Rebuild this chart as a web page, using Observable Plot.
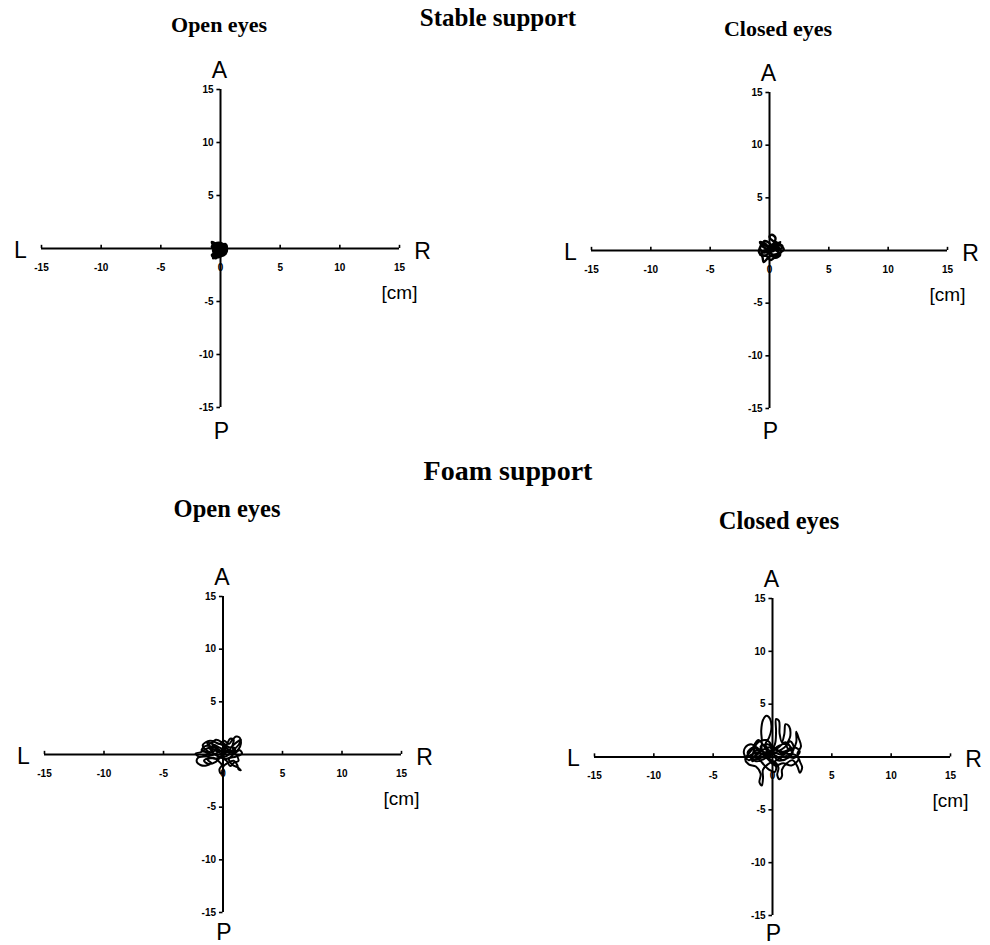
<!DOCTYPE html>
<html>
<head>
<meta charset="utf-8">
<script src="https://cdn.jsdelivr.net/npm/d3@7"></script>
<script src="https://cdn.jsdelivr.net/npm/@observablehq/plot@0.6"></script>
<style>
  html, body { margin: 0; padding: 0; background: #fff; }
  #page { position: relative; width: 990px; height: 945px; background: #fff; overflow: hidden; }
  .panel { position: absolute; }
  .title { position: absolute; font-family: "Liberation Serif", "Times New Roman", serif; font-weight: bold; line-height: 1; white-space: nowrap; transform: translateX(-50%); color: #000; }
</style>
</head>
<body>
<div id="page"></div>
<script>
// ---- Data (cm) ----
const sections = ["Stable support", "Foam support"];
const conditions = ["Open eyes", "Closed eyes"];
const xTicks = [-15, -10, -5, 0, 5, 10, 15];
const yTicks = [-15, -10, -5, 5, 10, 15];
const directionLabels = ["A", "P", "L", "R"];
const unitLabel = "[cm]";

// centre-of-pressure traces [ML, AP]
const stableOpen = [[0,0],[-0.3,0.2],[-0.6,0.4],[-0.4,0.1],[0.1,0.3],[0.4,0.1],[0.3,-0.3],[-0.1,-0.2],[-0.5,-0.1],[-0.7,0.2],[-0.3,0.5],[0.2,0.4],[0.5,0],[0.4,-0.5],[0,-0.7],[-0.4,-0.6],[-0.6,-0.9],[-0.5,-0.4],[-0.2,0],[0.2,-0.1],[0.3,0.3],[-0.1,0.4],[-0.5,0.3],[-0.2,-0.3],[0.1,-0.5],[0.4,-0.2],[0.2,0.2],[-0.3,0.1],[-0.6,-0.2],[-0.2,-0.8],[0.2,-0.6],[0.5,-0.3],[0.3,0],[-0.1,0.1],[-0.4,0.4],[-0.7,0.6],[-0.5,0.2],[0,0.2],[0.4,0.4],[0.5,0.1],[0.1,-0.3],[-0.3,-0.4],[-0.7,-0.6],[-0.4,-0.9],[0,-0.4],[0.3,-0.1],[-0.1,0]];

const stableClosed = [[0,0],[0.4,0.3],[0.8,0.1],[1.1,0.4],[0.7,0.7],[0.3,0.9],[0,1.3],[0.2,1.5],[0.5,1.2],[0.3,0.6],[-0.2,0.4],[-0.6,0.6],[-0.8,0.2],[-0.5,-0.2],[-0.1,-0.1],[0.3,-0.4],[0.7,-0.3],[1.2,0.1],[0.9,0.5],[0.4,0.2],[0,0.7],[-0.4,0.9],[-0.7,0.5],[-0.9,-0.1],[-0.6,-0.6],[-0.5,-1.1],[-0.2,-0.8],[0.1,-0.5],[0.5,-0.7],[0.9,-0.4],[0.6,0],[0.2,0.3],[-0.3,0.1],[-0.7,-0.3],[-0.4,-0.5],[0,-0.2],[0.5,0.1],[0.9,0.8],[0.5,0.5],[0.1,0.1],[-0.5,0.3],[-0.8,0.8],[-0.3,0.6],[0.2,-0.1],[0.7,0.3],[1.0,-0.1],[0.6,-0.5],[0.1,-0.9],[-0.3,-0.5],[-0.8,-0.4],[-0.4,0],[0.2,0.5],[0.6,0.8],[0.2,0]];

const foamOpen = [[0,0],[-0.5,0.3],[-1.0,0.6],[-1.5,0.5],[-1.9,0.2],[-2.3,0.1],[-2.0,-0.2],[-1.4,0],[-0.9,0.3],[-1.2,0.9],[-0.8,1.2],[-0.3,1.0],[0.1,1.3],[0.5,1.0],[0.8,1.4],[1.1,1.7],[1.4,1.6],[1.5,1.0],[1.3,0.5],[1.0,0.3],[0.8,0.8],[0.9,1.4],[0.6,1.5],[0.3,0.9],[0,0.5],[-0.4,0.2],[-1.0,-0.1],[-1.6,-0.2],[-2.1,-0.3],[-2.2,-0.7],[-1.9,-1.0],[-1.4,-1.05],[-1.0,-0.8],[-1.3,-0.5],[-0.8,-0.3],[-0.4,-0.6],[-0.1,-1.0],[-0.3,-1.4],[-0.2,-1.8],[0.05,-1.6],[0.0,-1.2],[0.4,-0.8],[0.9,-0.6],[1.2,-1.0],[1.3,-1.4],[1.5,-1.5],[1.2,-1.2],[0.8,-1.0],[0.5,-0.4],[1.1,-0.2],[1.6,0.1],[1.4,0.4],[0.9,0.1],[0.4,0.3],[-0.2,0.6],[-0.7,0.9],[-1.3,1.1],[-1.0,0.4],[-0.5,-0.1],[0.2,-0.2],[0.6,0.2],[0.3,0.6],[-0.1,0.2],[0.1,-0.4],[0.7,-0.2],[1.0,0.6],[0.5,0.7],[0,1.1],[-0.6,1.4],[-0.9,1.0],[-0.4,0.5],[0.2,0.1],[-0.3,-0.2],[-0.8,0.1],[-1.4,0.4],[-1.7,0.9],[-1.1,1.3],[-0.5,1.1],[0.1,0.8],[0.4,0.4],[-0.1,-0.1],[-0.6,-0.4],[-1.1,-0.3],[-1.6,-0.6],[-1.2,-0.9],[-0.6,-0.7],[-0.2,-0.3],[0.3,-0.6],[0.6,-1.1],[0.9,-0.8],[1.3,-0.6],[1.1,0.0],[0.6,0.5],[1.2,1.2],[1.5,1.4],[1.3,0.9],[0.8,0.4],[0.3,0.2],[-0.3,0.4],[-0.8,0.7],[-1.5,0.8],[-1.8,0.4],[-1.2,0.2],[-0.5,0.4],[0.1,0.3]];

const foamClosed = [[0,0],[-0.6,0.4],[-1.2,0.8],[-1.8,1.2],[-2.3,0.9],[-2.4,0.3],[-2.0,-0.3],[-1.5,0.1],[-1.0,0.5],[-0.9,1.5],[-0.95,2.5],[-0.8,3.5],[-0.5,3.9],[-0.2,3.6],[-0.1,2.6],[-0.3,1.8],[-0.6,1.2],[-0.2,0.6],[0.2,1.2],[0.3,2.4],[0.3,3.6],[0.55,3.4],[0.6,2.2],[0.8,1.4],[1.0,2.2],[1.1,3.1],[1.4,2.9],[1.5,2.0],[1.2,1.0],[1.6,0.6],[2.0,1.4],[2.0,2.4],[2.2,1.8],[2.4,1.0],[2.1,0.3],[2.3,-0.4],[2.5,-1.0],[2.3,-1.5],[2.1,-0.9],[1.7,-0.3],[1.2,-0.6],[0.8,-1.2],[0.8,-1.8],[0.6,-2.1],[0.4,-1.7],[0.5,-1.0],[0.1,-0.4],[-0.4,-0.7],[-0.8,-1.2],[-0.8,-2.0],[-0.9,-2.7],[-1.1,-2.4],[-1.0,-1.6],[-1.4,-0.9],[-2.0,-0.7],[-2.3,-0.2],[-1.8,0.6],[-1.2,1.6],[-0.7,1.0],[-0.2,0.2],[0.4,0.5],[1.0,0.9],[1.5,1.5],[1.8,0.8],[1.4,0.1],[0.9,-0.3],[0.3,0.1],[-0.4,0.5],[-1.1,0.1],[-1.7,-0.4],[-1.3,1.3],[-0.5,1.6],[0.1,0.9],[0.7,0.4],[1.2,0.3],[1.9,0.2],[2.2,-0.2],[1.6,-0.8],[0.9,-0.6],[0.2,-0.8],[-0.3,-0.3],[-0.9,0.3],[-1.6,0.9],[-2.1,0.4],[-1.4,-0.4],[-0.6,-0.1],[0.0,0.6],[0.6,1.1],[1.3,1.2],[1.7,0.4],[1.1,-0.2],[0.4,-0.3],[-0.2,0.9],[-0.8,0.7],[-1.5,0.5],[-0.9,-0.5],[-0.3,-1.2],[0.2,-1.4],[0.3,-0.9],[-0.2,-0.2],[-0.7,0.2],[-1.3,0.4],[-1.9,0.1],[-1.6,-0.2],[-1.0,-0.1],[-0.4,0.3],[0.2,0.4],[0.8,0.2],[1.4,0.6],[1.9,0.9],[2.3,0.5],[1.8,-0.1],[1.2,0.1],[0.6,-0.1],[0.0,-0.5],[-0.5,0.0],[-1.0,1.0],[-0.4,1.2],[0.3,0.7],[0.9,0.5],[1.5,0.9],[1.1,1.4],[0.5,0.9],[-0.1,0.4]];

// ---- Layout ----
const page = document.getElementById("page");
const AX = "Liberation Sans, Arial, sans-serif";
const TICKFONT = "Liberation Sans Narrow, Liberation Sans, Arial Narrow, sans-serif";

function panel(trace, box) {
  const svg = Plot.plot({
    width: box.w, height: box.h, margin: 0,
    style: { fontFamily: AX, background: "transparent", color: "#000", overflow: "visible" },
    x: { domain: [-15, 15], range: box.xr, axis: null },
    y: { domain: [-15, 15], range: box.yr, axis: null },
    marks: [
      Plot.ruleY([0], { x1: -15, x2: 15, stroke: "#000", strokeWidth: 2 }),
      Plot.ruleX([0], { y1: -15, y2: 15, stroke: "#000", strokeWidth: 2 }),
      Plot.ruleX(xTicks, { x: d => d, y1: 0, y2: 0.3, stroke: "#000", strokeWidth: 1.6 }),
      Plot.ruleY(yTicks, { y: d => d, x1: -0.3, x2: 0, stroke: "#000", strokeWidth: 1.6 }),
      Plot.text(xTicks, { x: d => d, y: 0, dy: 19, text: d => String(d), fontSize: 10, fontWeight: "bold", fontFamily: TICKFONT, fill: "#000" }),
      Plot.text(yTicks, { x: 0, y: d => d, dx: -7, textAnchor: "end", text: d => String(d), fontSize: 10, fontWeight: "bold", fontFamily: TICKFONT, fill: "#000" }),
      Plot.text([directionLabels[0]], { x: 0, y: 15, dy: -19, dx: -1, text: d => d, fontSize: 23, fill: "#000" }),
      Plot.text([directionLabels[1]], { x: 0, y: -15, dy: box.pdy, dx: 1, text: d => d, fontSize: 23, fill: "#000" }),
      Plot.text([directionLabels[2]], { x: -15, y: 0, dx: -21, dy: 2, text: d => d, fontSize: 23, fill: "#000" }),
      Plot.text([directionLabels[3]], { x: 15, y: 0, dx: 23, dy: 3, text: d => d, fontSize: 23, fill: "#000" }),
      Plot.text([unitLabel], { x: 15, y: 0, dy: 44, text: d => d, fontSize: 19, fill: "#000" }),
      Plot.line(trace, { x: d => d[0], y: d => d[1], stroke: "#000", strokeWidth: box.sw, curve: "catmull-rom" })
    ]
  });
  svg.classList.add("panel");
  svg.style.left = box.left + "px";
  svg.style.top = box.top + "px";
  page.appendChild(svg);
}

panel(stableOpen,   { left: 0,   top: 0,   w: 495, h: 460, xr: [41, 399], yr: [407, 89], pdy: 24, sw: 3 });
panel(stableClosed, { left: 495, top: 0,   w: 495, h: 460, xr: [96, 452], yr: [408, 92], pdy: 23, sw: 2.4 });
panel(foamOpen,     { left: 0,   top: 460, w: 495, h: 485, xr: [44, 401], yr: [452, 136], pdy: 20, sw: 2 });
panel(foamClosed,   { left: 495, top: 460, w: 495, h: 485, xr: [99, 455], yr: [455, 138], pdy: 18, sw: 2 });

function title(text, cx, top, size) {
  const d = document.createElement("div");
  d.className = "title";
  d.textContent = text;
  d.style.left = cx + "px";
  d.style.top = top + "px";
  d.style.fontSize = size + "px";
  page.appendChild(d);
}
title(sections[0], 498, 5, 25);
title(conditions[0], 219, 14, 22);
title(conditions[1], 778, 18, 22);
title(sections[1], 508, 457, 28);
title(conditions[0], 227, 497, 24.5);
title(conditions[1], 779, 509, 24.5);
</script>
</body>
</html>
